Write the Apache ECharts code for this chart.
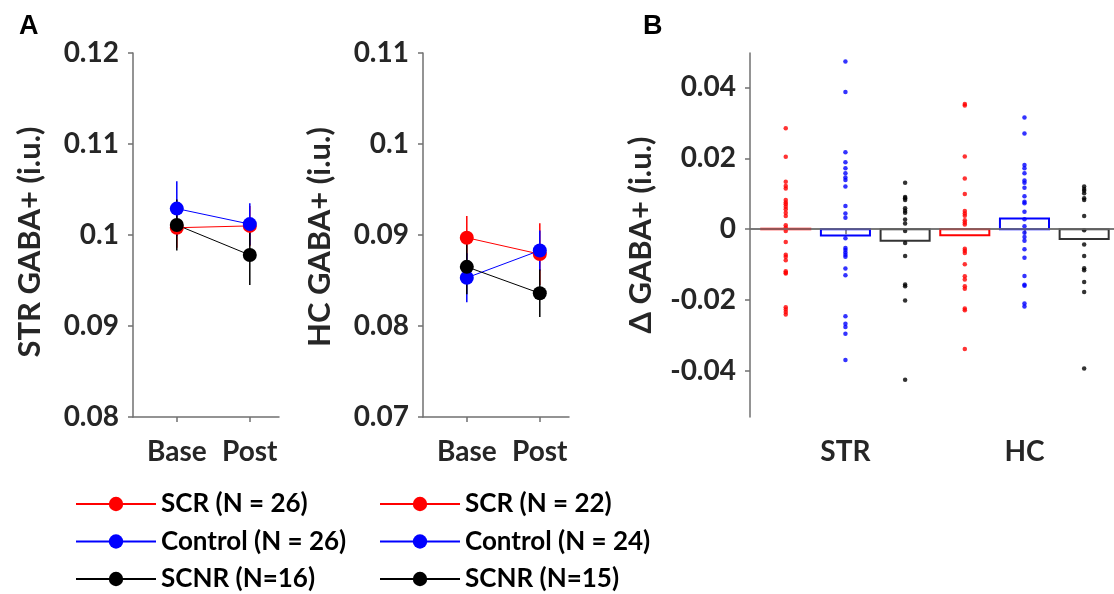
<!DOCTYPE html>
<html><head><meta charset="utf-8">
<script src="https://cdn.jsdelivr.net/npm/echarts@6/dist/echarts.min.js"></script>
<style>html,body{margin:0;padding:0;background:#fff}#c{width:1114px;height:594px}</style>
</head><body><div id="c"></div>
<script>
// ---------- data ----------
const timepoints = ['Base', 'Post'];
const regions = ['STR', 'HC'];
const colors = ['#ff0000', '#0000ff', '#000000'];
const boxColors = ['#ff0000', '#0000ff', '#333333'];

// Panel A, STR (mean, s.e.m.) per group: [Base, Post]
const strNames = ['SCR (N = 26)', 'Control (N = 26)', 'SCNR (N=16)'];
const strScrMean = [0.1008, 0.1010];
const strCtlMean = [0.1029, 0.1012];
const strScnrMean = [0.1011, 0.0978];
const strScrErr = [0.0022, 0.0022];
const strCtlErr = [0.0030, 0.0023];
const strScnrErr = [0.0028, 0.0033];

// Panel A, HC
const hcNames = ['SCR (N = 22)', 'Control (N = 24)', 'SCNR (N=15)'];
const hcScrMean = [0.0897, 0.0879];
const hcCtlMean = [0.0853, 0.0883];
const hcScnrMean = [0.0865, 0.0836];
const hcScrErr = [0.0024, 0.0034];
const hcCtlErr = [0.0027, 0.0022];
const hcScnrErr = [0.0030, 0.0026];

// Panel B, individual change values
const dStrScr = [0.0285, 0.0204, 0.0134, 0.0122, 0.0115, 0.0082, 0.0075, 0.0070, 0.0063, 0.0056, 0.0046, 0.0037, 0.0011, 0.0004, -0.0005, -0.0036, -0.0072, -0.0078, -0.0088, -0.0119, -0.0123, -0.0125, -0.0220, -0.0227, -0.0234, -0.0241];
const dStrCtl = [0.0473, 0.0387, 0.0217, 0.0189, 0.0172, 0.0158, 0.0146, 0.0139, 0.0120, 0.0065, 0.0044, 0.0032, -0.0026, -0.0053, -0.0059, -0.0066, -0.0072, -0.0078, -0.0111, -0.0130, -0.0246, -0.0267, -0.0276, -0.0295, -0.0369, -0.0531];
const dStrScnr = [0.0131, 0.0091, 0.0087, 0.0082, 0.0059, 0.0052, 0.0046, 0.0027, 0.0016, -0.0005, -0.0039, -0.0076, -0.0156, -0.0161, -0.0201, -0.0425];
const dHcScr = [0.0353, 0.0349, 0.0205, 0.0143, 0.0099, 0.0051, 0.0044, 0.0038, 0.0025, 0.0019, 0.0013, -0.0055, -0.0061, -0.0067, -0.0099, -0.0133, -0.0142, -0.0161, -0.0168, -0.0224, -0.0229, -0.0338];
const dHcCtl = [0.0315, 0.0270, 0.0181, 0.0172, 0.0158, 0.0137, 0.0131, 0.0117, 0.0093, 0.0077, 0.0073, 0.0049, 0.0028, 0.0008, -0.0010, -0.0022, -0.0033, -0.0057, -0.0081, -0.0132, -0.0157, -0.0160, -0.0210, -0.0218];
const dHcScnr = [0.0120, 0.0113, 0.0108, 0.0101, 0.0087, 0.0082, 0.0037, -0.0003, -0.0043, -0.0076, -0.0110, -0.0116, -0.0149, -0.0177, -0.0393];
// group mean change (bars)
const dStrMean = [0.0001, -0.0018, -0.0033];
const dHcMean = [-0.0017, 0.0030, -0.0028];

const yTicksA1 = [0.08, 0.12, 0.01];
const yTicksA2 = [0.07, 0.11, 0.01];
const yTicksB = [-0.04, -0.02, 0, 0.02, 0.04];

// ---------- build ----------
const FONT = 'Lato';
const AX = '#707070';
const TXT = '#262626';
const strMeans = [strScrMean, strCtlMean, strScnrMean];
const strErrs = [strScrErr, strCtlErr, strScnrErr];
const hcMeans = [hcScrMean, hcCtlMean, hcScnrMean];
const hcErrs = [hcScrErr, hcCtlErr, hcScnrErr];
const dVals = [[dStrScr, dStrCtl, dStrScnr], [dHcScr, dHcCtl, dHcScnr]];
const dMeans = [dStrMean, dHcMean];

function errSeries(idx, means, errs, color) {
  return {
    type: 'custom', xAxisIndex: idx, yAxisIndex: idx, silent: true,
    data: means.map((m, i) => [i + 1, m, errs[i]]),
    renderItem: function (params, api) {
      const x = api.value(0), m = api.value(1), e = api.value(2);
      const p1 = api.coord([x, m - e]), p2 = api.coord([x, m + e]);
      return { type: 'line', shape: { x1: p1[0], y1: p1[1], x2: p2[0], y2: p2[1] },
        style: { stroke: color, lineWidth: 1.5 } };
    }
  };
}
function lineSeries(idx, name, means, color) {
  return {
    type: 'line', name: name, xAxisIndex: idx, yAxisIndex: idx,
    data: means.map((m, i) => [i + 1, m]),
    symbol: 'circle', symbolSize: 14, showSymbol: true,
    lineStyle: { color: color, width: 1 }, itemStyle: { color: color },
    emphasis: { disabled: true }, animation: false
  };
}

const series = [];
for (let g = 0; g < 3; g++) {
  series.push(errSeries(0, strMeans[g], strErrs[g], colors[g]));
  series.push(lineSeries(0, strNames[g], strMeans[g], colors[g]));
}
for (let g = 0; g < 3; g++) {
  series.push(errSeries(1, hcMeans[g], hcErrs[g], colors[g]));
  series.push(lineSeries(1, hcNames[g], hcMeans[g], colors[g]));
}
// Panel B boxes
const boxData = [];
for (let r = 0; r < 2; r++) for (let g = 0; g < 3; g++) boxData.push([r + 1 + (g - 1) / 3, dMeans[r][g], g]);
series.push({
  type: 'custom', xAxisIndex: 2, yAxisIndex: 2, silent: true, data: boxData,
  renderItem: function (params, api) {
    const x = api.value(0), m = api.value(1), g = api.value(2);
    const a = api.coord([x - 0.137, 0]), b = api.coord([x + 0.137, m]);
    return { type: 'rect', shape: { x: a[0], y: Math.min(a[1], b[1]), width: b[0] - a[0], height: Math.max(Math.abs(b[1] - a[1]), 0.5) },
      style: { fill: 'none', stroke: boxColors[g], lineWidth: 2 } };
  },
  markLine: { silent: true, symbol: 'none', label: { show: false },
    lineStyle: { color: AX, width: 1.5, type: 'solid' }, data: [{ yAxis: 0 }] },
  z: 3
});
for (let r = 0; r < 2; r++) for (let g = 0; g < 3; g++) {
  series.push({
    type: 'scatter', xAxisIndex: 2, yAxisIndex: 2, silent: true,
    data: dVals[r][g].map(v => [r + 1 + (g - 1) / 3, v]),
    symbol: 'circle', symbolSize: 4.5, itemStyle: { color: colors[g] }, z: 4
  });
}

function yAxisA(idx, t, name, pad) {
  return {
    type: 'value', gridIndex: idx, min: t[0], max: t[1], interval: t[2],
    axisLine: { show: true, lineStyle: { color: AX, width: 1.5 } },
    axisTick: { show: true, length: 5, lineStyle: { color: AX, width: 1.5 } },
    axisLabel: { color: TXT, fontFamily: FONT, fontWeight: 'bold', fontSize: 28, margin: 14,
      formatter: v => String(+v.toFixed(3)) },
    splitLine: { show: false },
    name: name, nameLocation: 'middle', nameGap: 88,
    nameTextStyle: { color: TXT, fontFamily: FONT, fontWeight: 'bold', fontSize: 31, padding: [0, pad, 0, 0] }
  };
}
function xAxisCat(idx, min, max, labels) {
  return {
    type: 'value', gridIndex: idx, min: min, max: max,
    axisLine: { show: true, lineStyle: { color: AX, width: 1.5 } },
    axisTick: { show: true, length: 5, customValues: [1, 2], lineStyle: { color: AX, width: 1.5 } },
    axisLabel: { customValues: [1, 2], color: TXT, fontFamily: FONT, fontWeight: 'bold', fontSize: 28, margin: 21,
      formatter: v => labels[Math.round(v) - 1] || '' },
    splitLine: { show: false }
  };
}

const legendCommon = {
  orient: 'vertical', itemWidth: 80, itemHeight: 18, itemGap: 9.5, padding: 0, height: 112,
  textStyle: { color: '#000', fontFamily: FONT, fontWeight: 'bold', fontSize: 26, lineHeight: 28 },
  selectedMode: false
};

const option = {
  animation: false,
  backgroundColor: '#fff',
  grid: [
    { left: 133, top: 53, width: 146, height: 364 },
    { left: 423, top: 53, width: 146, height: 364 },
    { left: 750, top: 53, width: 370, height: 364 }
  ],
  xAxis: [
    xAxisCat(0, 0.4, 2.4, timepoints),
    xAxisCat(1, 0.4, 2.4, timepoints),
    xAxisCat(2, 0.467, 2.5, regions)
  ],
  yAxis: [
    yAxisA(0, yTicksA1, 'STR GABA+ (i.u.)', 14),
    yAxisA(1, yTicksA2, 'HC GABA+ (i.u.)', 4),
    {
      type: 'value', gridIndex: 2, min: -0.053, max: 0.0497,
      axisLine: { show: true, lineStyle: { color: AX, width: 1.5 } },
      axisTick: { show: true, length: 5, customValues: yTicksB, lineStyle: { color: AX, width: 1.5 } },
      axisLabel: { customValues: yTicksB, color: TXT, fontFamily: FONT, fontWeight: 'bold', fontSize: 28, margin: 14,
        formatter: v => (Math.abs(v) < 1e-9 ? '0' : v.toFixed(2)) },
      splitLine: { show: false },
      name: '\u0394 GABA+ (i.u.)', nameLocation: 'middle', nameGap: 94,
      nameTextStyle: { color: TXT, fontFamily: FONT, fontWeight: 'bold', fontSize: 31 }
    }
  ],
  legend: [
    Object.assign({ data: strNames, left: 75, top: 490 }, legendCommon),
    Object.assign({ data: hcNames, left: 379, top: 490 }, legendCommon)
  ],
  graphic: [
    { type: 'text', left: 19, top: 13, style: { text: 'A', fontFamily: 'Liberation Sans', fontWeight: 'bold', fontSize: 27, fill: '#000' } },
    { type: 'text', left: 643, top: 13, style: { text: 'B', fontFamily: 'Liberation Sans', fontWeight: 'bold', fontSize: 27, fill: '#000' } }
  ],
  series: series
};

const chart = echarts.init(document.getElementById('c'), null, { renderer: 'canvas' });
chart.setOption(option);
</script>
</body></html>
